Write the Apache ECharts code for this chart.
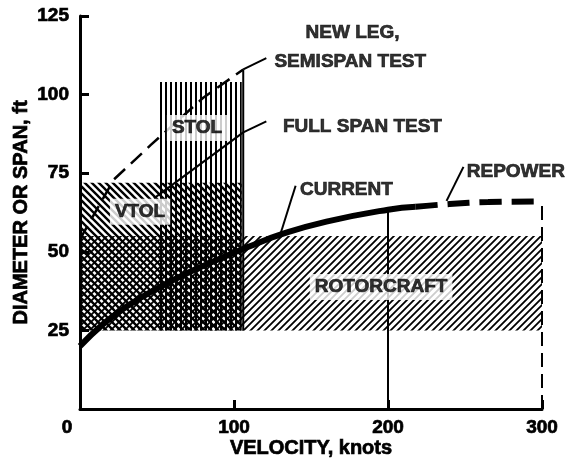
<!DOCTYPE html>
<html>
<head>
<meta charset="utf-8">
<script src="https://cdn.jsdelivr.net/npm/echarts@6/dist/echarts.min.js"></script>
<style>
  html, body { margin: 0; padding: 0; background: #fff; }
  #chart { width: 576px; height: 462px; }
</style>
</head>
<body>
<div id="chart"></div>
<script>
// current rotor curve (solid) and repower extension (dashed)
const currentVel = [0, 15, 30, 50, 74, 90, 109, 131, 160, 200, 218]
const currentDia = [20, 27, 32.5, 38.3, 44.2, 47.6, 51.5, 55.6, 59.6, 63.4, 64.3]
const repowerVel = [218, 240, 265, 300]
const repowerDia = [64.3, 65.2, 65.8, 66]

// test lines
const semispanVel = [0, 22, 46, 80, 106]
const semispanDia = [54, 73, 84, 99, 108]
const fullspanVel = [48, 106]
const fullspanDia = [67, 88]

// hatched regions: [velFrom, velTo, diaFrom, diaTo]
const rotorcraftBox = [0, 300, 25, 55]
const vtolBox = [0, 105, 25, 72]
const stolBox = [50, 105, 25, 104]

// leader lines
const semispanLeader = [[106, 108], [121, 111.6]]
const fullspanLeader = [[106, 88], [121, 91.5]]
const currentLeader = [[130, 55.4], [140, 71]]
const repowerLeader = [[238, 66.2], [249, 77]]

// labels: [vel, dia, text]
const labels = [
  [177, 119.6, 'NEW LEG,'],
  [175.5, 110.4, 'SEMISPAN TEST'],
  [183.4, 89.7, 'FULL SPAN TEST'],
  [173, 69.7, 'CURRENT'],
  [283, 75.4, 'REPOWER']
]
const boxedLabels = [
  [76, 89.4, 'STOL'],
  [39, 62.7, 'VTOL'],
  [195.5, 38.8, 'ROTORCRAFT']
]

const xTicks = [0, 100, 200, 300]
const yTicks = [0, 25, 50, 75, 100, 125]

const FONT = 'Liberation Sans'
const heavy = { fontFamily: FONT, fontWeight: 'bold', color: '#000', textBorderColor: '#000', textBorderWidth: 0.7 }

function hatch (kind) {
  const s = kind === 'vert' ? 5 : 7
  const c = document.createElement('canvas')
  c.width = s
  c.height = s
  const ctx = c.getContext('2d')
  ctx.strokeStyle = '#000'
  if (kind === 'vert') {
    ctx.fillStyle = '#000'
    ctx.fillRect(0, 0, 2, s)
    return c
  }
  ctx.lineWidth = kind === 'back' ? 2.4 : 1.8
  ctx.beginPath()
  if (kind === 'back') {
    ctx.moveTo(-1, -1); ctx.lineTo(s + 1, s + 1)
    ctx.moveTo(-2, s - 2); ctx.lineTo(2, s + 2)
    ctx.moveTo(s - 2, -2); ctx.lineTo(s + 2, 2)
  } else {
    ctx.moveTo(-1, s + 1); ctx.lineTo(s + 1, -1)
    ctx.moveTo(-2, 2); ctx.lineTo(2, -2)
    ctx.moveTo(s - 2, s + 2); ctx.lineTo(s + 2, s - 2)
  }
  ctx.stroke()
  return c
}

function zip (a, b) { return a.map((v, i) => [v, b[i]]) }

function boxSeries (box, pattern, z) {
  return {
    type: 'custom',
    z: z,
    silent: true,
    data: [box],
    renderItem (params, api) {
      const p0 = api.coord([api.value(0), api.value(3)])
      const p1 = api.coord([api.value(1), api.value(2)])
      return {
        type: 'rect',
        shape: { x: p0[0], y: p0[1], width: p1[0] - p0[0], height: p1[1] - p0[1] },
        style: { fill: { image: hatch(pattern), repeat: 'repeat' } }
      }
    }
  }
}

function lineSeries (data, width, type, z) {
  return {
    type: 'line',
    data: data,
    z: z,
    symbol: 'none',
    silent: true,
    lineStyle: { color: '#000', width: width, type: type }
  }
}

const chart = echarts.init(document.getElementById('chart'))
chart.setOption({
  animation: false,
  backgroundColor: '#fff',
  textStyle: { fontFamily: FONT, fontWeight: 'bold', color: '#000' },
  grid: { left: 80, right: 34, top: 16, bottom: 53, outerBoundsMode: 'none' },
  xAxis: {
    type: 'value',
    min: xTicks[0],
    max: xTicks[xTicks.length - 1],
    interval: 100,
    name: 'VELOCITY, knots',
    nameLocation: 'middle',
    nameGap: 29,
    nameMoveOverlap: false,
    nameTextStyle: Object.assign({ fontSize: 20 }, heavy),
    axisLine: { lineStyle: { color: '#000', width: 3 } },
    axisTick: { inside: true, length: 9, lineStyle: { color: '#000', width: 3 } },
    axisLabel: Object.assign({
      margin: 9,
      fontSize: 19,
      formatter: v => v === 0 ? '{z|0}' : String(v),
      rich: { z: Object.assign({ fontSize: 19, padding: [0, 26, 0, 0] }, heavy) }
    }, heavy),
    splitLine: { show: false }
  },
  yAxis: {
    type: 'value',
    min: yTicks[0],
    max: yTicks[yTicks.length - 1],
    interval: 25,
    name: 'DIAMETER OR SPAN, ft',
    nameLocation: 'middle',
    nameGap: 49,
    nameMoveOverlap: false,
    nameTextStyle: Object.assign({ fontSize: 20 }, heavy),
    axisLine: { show: true, lineStyle: { color: '#000', width: 3 } },
    axisTick: { show: true, inside: true, length: 9, lineStyle: { color: '#000', width: 3 } },
    axisLabel: Object.assign({
      margin: 11,
      fontSize: 19,
      formatter: v => v === 0 ? '' : String(v)
    }, heavy),
    splitLine: { show: false }
  },
  series: [
    boxSeries(rotorcraftBox, 'fwd', 1),
    boxSeries(vtolBox, 'back', 1),
    boxSeries(stolBox, 'vert', 1),
    lineSeries([[stolBox[1] + 1, stolBox[2]], [stolBox[1] + 1, 108]], 2, 'solid', 3),
    lineSeries(zip(semispanVel, semispanDia), 2.5, [15, 8], 3),
    lineSeries(zip(fullspanVel, fullspanDia), 2, 'solid', 3),
    lineSeries([[200, 0], [200, 63.4]], 2, 'solid', 3),
    lineSeries([[300, 0], [300, 66]], 2, [14, 7], 3),
    Object.assign(lineSeries(zip(currentVel, currentDia), 6, 'solid', 4), { smooth: true }),
    Object.assign(lineSeries(zip(repowerVel, repowerDia), 6, [22, 10], 4), { smooth: true }),
    lineSeries(semispanLeader, 2, 'solid', 3),
    lineSeries(fullspanLeader, 2, 'solid', 3),
    lineSeries(currentLeader, 2, 'solid', 3),
    lineSeries(repowerLeader, 2, 'solid', 3),
    {
      type: 'scatter',
      z: 6,
      silent: true,
      symbolSize: 0,
      data: boxedLabels,
      label: Object.assign({
        show: true,
        position: 'inside',
        formatter: p => p.value[2],
        fontSize: 19,
        backgroundColor: '#fff',
        padding: [4, 5, 3, 5]
      }, heavy)
    },
    {
      type: 'scatter',
      z: 6,
      silent: true,
      symbolSize: 0,
      data: labels,
      label: Object.assign({
        show: true,
        position: 'inside',
        formatter: p => p.value[2],
        fontSize: 19
      }, heavy)
    }
  ]
})
</script>
</body>
</html>
